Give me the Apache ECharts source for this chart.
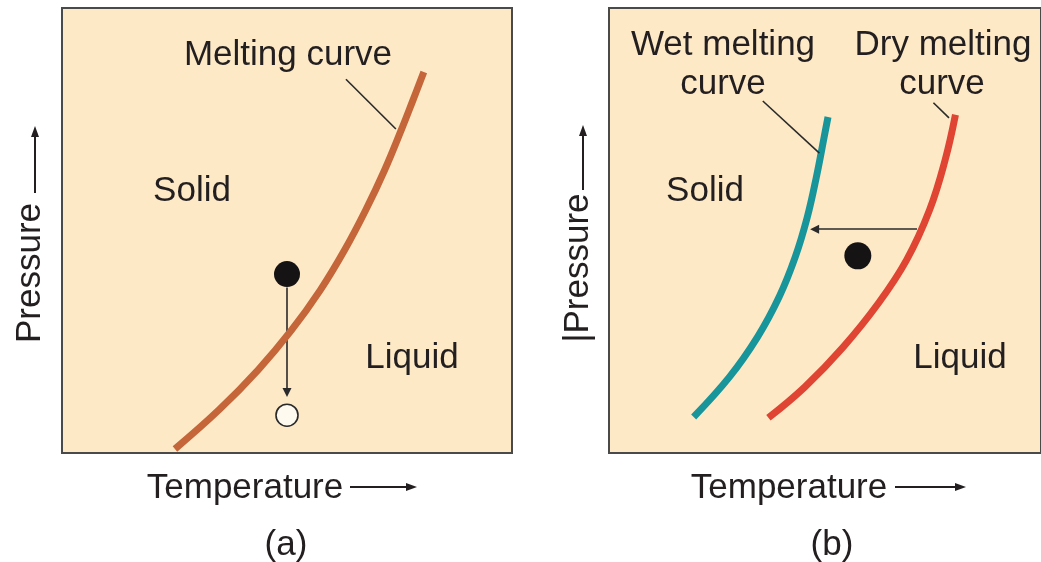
<!DOCTYPE html>
<html>
<head>
<meta charset="utf-8">
<script src="https://cdn.jsdelivr.net/npm/echarts@6/dist/echarts.min.js"></script>
<style>
html,body{margin:0;padding:0;background:#fff;}
#chart{width:1041px;height:562px;}
</style>
</head>
<body>
<div id="chart"></div>
<script>
// ---- data (axis units 0..100 in each panel) ----
const meltingCurveA = [[25.1,0.9],[34.9,9.7],[43.6,18.7],[51.0,27.6],[57.4,36.6],[62.8,45.6],[67.5,54.6],[71.7,63.6],[75.4,72.6],[78.0,79.3],[80.4,85.6]];
const leaderA = [[63.1,84.0],[74.2,72.8]];
const solidPointA = [[50.0,40.2]];
const arrowA = [[50.0,37.2],[50.0,13.6]];
const openPointA = [[50.0,8.5]];

const wetCurveB = [[19.6,8.1],[27.9,17.1],[34.4,26.1],[39.4,35.1],[43.1,44.0],[45.9,53.0],[48.0,62.0],[49.8,71.0],[50.7,75.5]];
const dryCurveB = [[36.9,7.9],[45.3,14.8],[54.2,23.8],[62.4,33.7],[68.9,43.4],[74.2,54.6],[77.8,65.8],[80.2,76.0]];
const leaderWetB = [[35.6,79.1],[48.7,67.4]];
const leaderDryB = [[75.1,78.7],[78.7,75.3]];
const arrowB = [[71.3,50.3],[47.6,50.3]];
const solidPointB = [[57.6,44.3]];

const axisNameX = 'Temperature';
const axisNameYA = 'Pressure';
const axisNameYB = '|Pressure';
const panelLabels = ['(a)','(b)'];

const FONT = '35px "Liberation Sans", Arial, Helvetica, sans-serif';
const TXT = '#231f20';
const BG = '#fde9c6';

function txt(text, x, y, rot) {
  return {type:'text', x:x, y:y, rotation: rot || 0, z:100,
    style:{text:text, font:FONT, fill:TXT, align:'center', verticalAlign:'middle'}};
}
function hArrow(x1, x2, y) {
  return [
    {type:'line', z:100, shape:{x1:x1,y1:y,x2:x2-8,y2:y}, style:{stroke:TXT,lineWidth:2}},
    {type:'polygon', z:100, shape:{points:[[x2,y],[x2-11,y-4],[x2-11,y+4]]}, style:{fill:TXT}}
  ];
}
function vArrow(x, y1, y2) {
  return [
    {type:'line', z:100, shape:{x1:x,y1:y1,x2:x,y2:y2+8}, style:{stroke:TXT,lineWidth:2}},
    {type:'polygon', z:100, shape:{points:[[x,y2],[x-4,y2+11],[x+4,y2+11]]}, style:{fill:TXT}}
  ];
}

const chart = echarts.init(document.getElementById('chart'), null, {renderer:'canvas'});

function axes(idx) {
  return {gridIndex: idx, type:'value', min:0, max:100, show:false};
}

const option = {
  animation:false,
  backgroundColor:'#ffffff',
  grid:[
    {left:62, top:8, width:450, height:445, show:true, backgroundColor:BG, borderColor:'#4a4a4a', borderWidth:2},
    {left:609, top:8, width:450, height:445, show:true, backgroundColor:BG, borderColor:'#4a4a4a', borderWidth:2}
  ],
  xAxis:[axes(0), axes(1)],
  yAxis:[axes(0), axes(1)],
  series:[
    {type:'line', xAxisIndex:0, yAxisIndex:0, data:meltingCurveA, smooth:0.4, symbol:'none',
      lineStyle:{color:'#c4663a', width:7, cap:'butt'}},
    {type:'line', xAxisIndex:0, yAxisIndex:0, data:leaderA, symbol:'none',
      lineStyle:{color:'#2a2a2a', width:1.6}},
    {type:'lines', coordinateSystem:'cartesian2d', xAxisIndex:0, yAxisIndex:0,
      data:[{coords:arrowA}], symbol:['none','triangle'], symbolSize:[0,9],
      lineStyle:{color:'#2a2a2a', width:1.6, opacity:1}},
    {type:'scatter', xAxisIndex:0, yAxisIndex:0, data:solidPointA, symbol:'circle', symbolSize:26,
      itemStyle:{color:'#161314', opacity:1}},
    {type:'scatter', xAxisIndex:0, yAxisIndex:0, data:openPointA, symbol:'circle', symbolSize:22,
      itemStyle:{color:'#fffaf0', borderColor:'#2a2a2a', borderWidth:1.6, opacity:1}},

    {type:'line', xAxisIndex:1, yAxisIndex:1, data:wetCurveB, smooth:0.4, symbol:'none',
      lineStyle:{color:'#18959a', width:7, cap:'butt'}},
    {type:'line', xAxisIndex:1, yAxisIndex:1, data:dryCurveB, smooth:0.4, symbol:'none',
      lineStyle:{color:'#df4532', width:7, cap:'butt'}},
    {type:'line', xAxisIndex:1, yAxisIndex:1, data:leaderWetB, symbol:'none',
      lineStyle:{color:'#2a2a2a', width:1.6}},
    {type:'line', xAxisIndex:1, yAxisIndex:1, data:leaderDryB, symbol:'none',
      lineStyle:{color:'#2a2a2a', width:1.6}},
    {type:'lines', coordinateSystem:'cartesian2d', xAxisIndex:1, yAxisIndex:1,
      data:[{coords:arrowB}], symbol:['none','triangle'], symbolSize:[0,9],
      lineStyle:{color:'#2a2a2a', width:1.6, opacity:1}},
    {type:'scatter', xAxisIndex:1, yAxisIndex:1, data:solidPointB, symbol:'circle', symbolSize:27,
      itemStyle:{color:'#161314', opacity:1}}
  ],
  graphic: [].concat(
    [
      txt('Melting curve', 288, 55),
      txt('Solid', 192, 191),
      txt('Liquid', 412, 358),
      txt(axisNameX, 245, 488),
      txt(axisNameYA, 30, 273, Math.PI/2),
      txt(panelLabels[0], 286, 545),
      txt('Wet melting', 723, 45),
      txt('curve', 723, 84),
      txt('Dry melting', 943, 45),
      txt('curve', 942, 84),
      txt('Solid', 705, 191),
      txt('Liquid', 960, 358),
      txt(axisNameX, 789, 488),
      txt(axisNameYB, 578, 268, Math.PI/2),
      txt(panelLabels[1], 832, 545)
    ],
    hArrow(350, 417, 487),
    hArrow(895, 966, 487),
    vArrow(35, 193, 126),
    vArrow(583, 190, 125)
  )
};
chart.setOption(option);
</script>
</body>
</html>
